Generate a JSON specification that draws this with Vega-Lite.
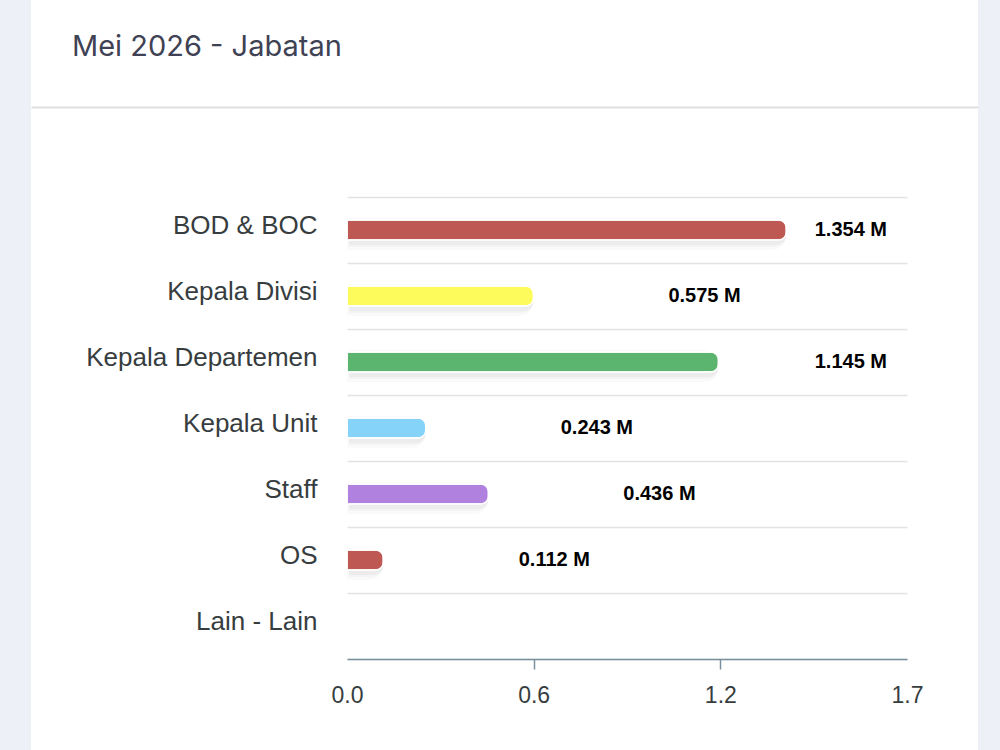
{
  "$schema": "https://vega.github.io/schema/vega-lite/v6.json",
  "width": 947,
  "height": 750,
  "autosize": {"type": "none"},
  "padding": {"left": 31, "right": 22, "top": 0, "bottom": 0},
  "background": "#eef0f8",
  "config": {
    "view": {"fill": "#ffffff", "stroke": null}
  },
  "title": {
    "text": "Mei 2026 - Jabatan",
    "anchor": "start",
    "frame": "group",
    "orient": "top",
    "offset": 0,
    "dx": 41,
    "dy": 98,
    "baseline": "alphabetic",
    "font": "Inter",
    "fontSize": 29,
    "fontWeight": 400,
    "color": "#3f4254"
  },
  "data": {
    "values": [
      {"jabatan": "BOD & BOC", "nilai": 1.354},
      {"jabatan": "Kepala Divisi", "nilai": 0.575},
      {"jabatan": "Kepala Departemen", "nilai": 1.145},
      {"jabatan": "Kepala Unit", "nilai": 0.243},
      {"jabatan": "Staff", "nilai": 0.436},
      {"jabatan": "OS", "nilai": 0.112},
      {"jabatan": "Lain - Lain", "nilai": 0}
    ]
  },
  "layer": [
    {
      "mark": {"type": "rule", "opacity": 0},
      "encoding": {
        "x": {
          "datum": 0,
          "type": "quantitative",
          "scale": {"domain": [0, 1], "range": [0, 947]},
          "axis": {
            "orient": "top",
            "offset": -107,
            "domain": true,
            "domainColor": "#e1dee0",
            "domainWidth": 2,
            "ticks": false,
            "labels": false,
            "grid": false,
            "title": null
          }
        }
      }
    },
    {
      "encoding": {
        "y": {
          "field": "jabatan",
          "type": "nominal",
          "sort": ["BOD & BOC", "Kepala Divisi", "Kepala Departemen", "Kepala Unit", "Staff", "OS", "Lain - Lain"],
          "scale": {"range": [197, 659], "paddingInner": 0, "paddingOuter": 0},
          "axis": {
            "orient": "left",
            "offset": -316,
            "domain": false,
            "ticks": false,
            "tickBand": "extent",
            "grid": true,
            "gridColor": "#e3e3e3",
            "gridWidth": 1.5,
            "labelPadding": 30,
            "labelFont": "Liberation Sans",
            "labelFontSize": 26,
            "labelColor": "#373d3f",
            "labelOffset": -5,
            "labelLimit": 0,
            "title": null
          }
        }
      },
      "layer": [
        {
          "mark": {"type": "bar", "size": 32, "yOffset": 4, "color": "#000000", "opacity": 0.02, "cornerRadiusEnd": 14},
          "encoding": {
            "x": {
              "field": "nilai",
              "type": "quantitative",
              "scale": {"domain": [0, 1.726], "range": [316, 876], "zero": true, "nice": false},
              "axis": {
                "orient": "bottom",
                "offset": -91,
                "values": [0, 0.5753, 1.1507, 1.726],
                "format": ".1f",
                "domainColor": "#78909c",
                "domainWidth": 1.5,
                "tickColor": {"condition": {"test": "datum.value > 0.01 && datum.value < 1.7", "value": "#78909c"}, "value": "transparent"},
                "tickSize": 10,
                "tickWidth": 1.5,
                "labelPadding": 15,
                "labelFont": "Liberation Sans",
                "labelFontSize": 23,
                "labelColor": "#373d3f",
                "labelFlush": false,
                "labelOverlap": false,
                "grid": false,
                "title": null,
                "zindex": 1
              }
            }
          }
        },
        {
          "mark": {"type": "bar", "size": 26, "yOffset": 4, "xOffset": 2, "color": "#000000", "opacity": 0.025, "cornerRadiusEnd": 12},
          "encoding": {"x": {"field": "nilai", "type": "quantitative"}}
        },
        {
          "mark": {"type": "bar", "size": 22, "yOffset": 4, "xOffset": 2, "color": "#000000", "opacity": 0.03, "cornerRadiusEnd": 10},
          "encoding": {"x": {"field": "nilai", "type": "quantitative"}}
        },
        {
          "mark": {"type": "bar", "size": 20, "stroke": "#ffffff", "strokeWidth": 1.5, "cornerRadiusEnd": 8},
          "encoding": {
            "x": {"field": "nilai", "type": "quantitative"},
            "color": {
              "field": "jabatan",
              "type": "nominal",
              "scale": {
                "domain": ["BOD & BOC", "Kepala Divisi", "Kepala Departemen", "Kepala Unit", "Staff", "OS", "Lain - Lain"],
                "range": ["#be5853", "#fdfb5c", "#5bb56e", "#85d3f9", "#b181df", "#be5853", "#ffffff"]
              },
              "legend": null
            }
          }
        },
        {
          "transform": [
            {"filter": "datum.nilai > 0"},
            {"calculate": "min(datum.nilai + 0.527, 1.553)", "as": "posisi_label"},
            {"calculate": "format(datum.nilai, '.3f') + ' M'", "as": "label"}
          ],
          "mark": {"type": "text", "font": "Liberation Sans", "fontSize": 20, "fontWeight": "bold", "color": "#000000", "align": "center", "baseline": "middle"},
          "encoding": {
            "x": {"field": "posisi_label", "type": "quantitative"},
            "text": {"field": "label", "type": "nominal"}
          }
        }
      ]
    }
  ],
  "resolve": {"scale": {"x": "independent"}, "axis": {"x": "independent"}}
}
